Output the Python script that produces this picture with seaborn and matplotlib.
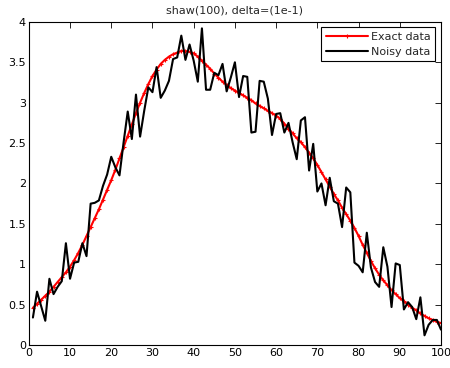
import numpy as np
import pandas as pd
import matplotlib
matplotlib.use("Agg")
import matplotlib.pyplot as plt
import seaborn as sns

# Sample index of the shaw(100) right-hand side
index = list(range(1, 101))

# Noise-free right-hand side
exact_data = [
    0.46, 0.51, 0.56, 0.61, 0.66, 0.72, 0.78, 0.84, 0.90, 0.97,
    1.05, 1.14, 1.24, 1.35, 1.46, 1.57, 1.68, 1.80, 1.92, 2.04,
    2.17, 2.31, 2.45, 2.59, 2.73, 2.87, 3.00, 3.12, 3.23, 3.33,
    3.41, 3.48, 3.53, 3.57, 3.60, 3.62, 3.64, 3.64, 3.63, 3.61,
    3.57, 3.52, 3.47, 3.42, 3.36, 3.31, 3.26, 3.22, 3.18, 3.15,
    3.12, 3.09, 3.06, 3.03, 2.99, 2.96, 2.93, 2.90, 2.87, 2.84,
    2.80, 2.74, 2.68, 2.62, 2.56, 2.51, 2.45, 2.38, 2.31, 2.23,
    2.14, 2.05, 1.96, 1.87, 1.79, 1.70, 1.62, 1.54, 1.45, 1.35,
    1.24, 1.14, 1.04, 0.95, 0.87, 0.80, 0.74, 0.68, 0.63, 0.58,
    0.54, 0.50, 0.46, 0.43, 0.39, 0.36, 0.33, 0.31, 0.29, 0.27,
]

# Right-hand side with noise level delta = 1e-1
noisy_data = [
    0.34, 0.66, 0.48, 0.30, 0.82, 0.63, 0.72, 0.79, 1.26, 0.82,
    1.02, 1.03, 1.26, 1.10, 1.75, 1.76, 1.79, 1.97, 2.11, 2.33,
    2.20, 2.10, 2.51, 2.89, 2.55, 3.10, 2.58, 2.90, 3.19, 3.13,
    3.44, 3.06, 3.15, 3.27, 3.54, 3.56, 3.83, 3.53, 3.72, 3.52,
    3.26, 3.92, 3.16, 3.16, 3.37, 3.34, 3.48, 3.14, 3.31, 3.50,
    3.07, 3.33, 3.32, 2.63, 2.64, 3.27, 3.26, 3.05, 2.60, 2.86,
    2.87, 2.63, 2.75, 2.51, 2.30, 2.78, 2.82, 2.16, 2.49, 1.90,
    2.00, 1.73, 2.07, 1.78, 1.75, 1.46, 1.95, 1.89, 1.02, 0.98,
    0.90, 1.39, 0.96, 0.78, 0.72, 1.21, 0.97, 0.47, 1.01, 0.99,
    0.44, 0.53, 0.47, 0.32, 0.59, 0.12, 0.25, 0.31, 0.31, 0.19,
]

x_ticks = list(range(0, 101, 10))
y_ticks = [0, 0.5, 1, 1.5, 2, 2.5, 3, 3.5, 4]
y_tick_labels = ["0", "0.5", "1", "1.5", "2", "2.5", "3", "3.5", "4"]

sns.set_style("white")
plt.rcParams["font.family"] = ["DejaVu Sans"]

df = pd.DataFrame({"i": index, "exact": exact_data, "noisy": noisy_data})

fig = plt.figure(figsize=(4.5, 3.68), dpi=100)
ax = fig.add_axes([0.064, 0.0625, 0.916, 0.878])

sns.lineplot(data=df, x="i", y="exact", ax=ax, color="#ff0000", linewidth=1.5,
             marker="+", markersize=3, markeredgewidth=0.8,
             markeredgecolor="#ff0000", label="Exact data")
sns.lineplot(data=df, x="i", y="noisy", ax=ax, color="black", linewidth=1.5,
             label="Noisy data")

ax.set_xlim(0, 100)
ax.set_ylim(0, 4)
ax.set_xticks(x_ticks)
ax.set_xticklabels([str(t) for t in x_ticks])
ax.set_yticks(y_ticks)
ax.set_yticklabels(y_tick_labels)
ax.set_xlabel("")
ax.set_ylabel("")
ax.tick_params(direction="in", length=4, width=0.6, top=True, right=True,
               labelsize=8, colors="black", pad=2)
for side in ax.spines.values():
    side.set_color("black")
    side.set_linewidth(0.8)
    side.set_visible(True)

ax.set_title("shaw(100), delta=(1e-1)", fontsize=8, pad=6)

leg = ax.legend(loc="upper right", fontsize=8, fancybox=False, framealpha=1,
                edgecolor="black", borderaxespad=0.5, handlelength=3.8,
                handletextpad=0.3, borderpad=0.4, labelspacing=0.45)
leg.get_frame().set_linewidth(0.8)

fig.savefig("out.png", dpi=100)
